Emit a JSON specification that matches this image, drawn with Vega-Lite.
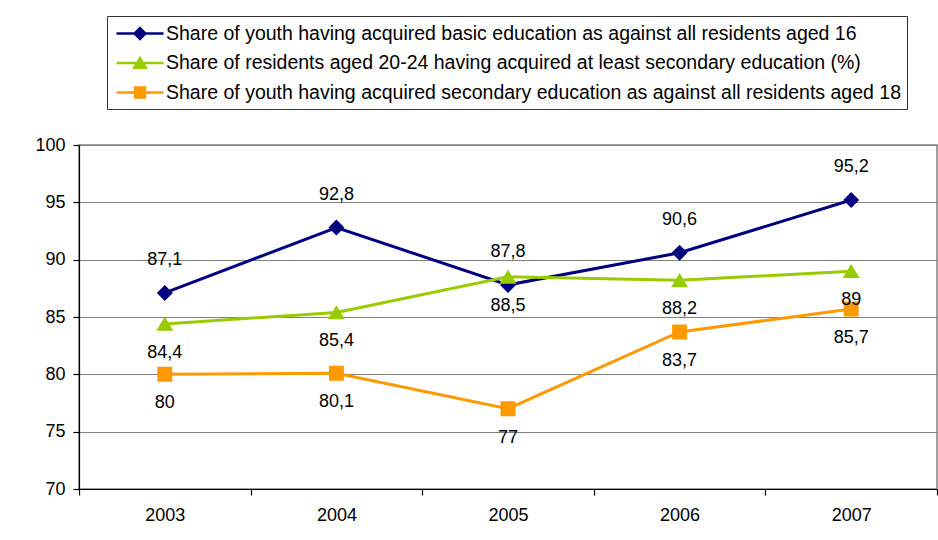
{
  "$schema": "https://vega.github.io/schema/vega-lite/v6.json",
  "autosize": "none",
  "width": 858,
  "height": 344,
  "padding": {"left": 79, "top": 145, "right": 1, "bottom": 51},
  "background": "white",
  "config": {
    "locale": {"number": {"decimal": ",", "thousands": " ", "grouping": [3], "currency": ["", ""]}},
    "font": "Liberation Sans",
    "view": {"stroke": "#808080", "strokeWidth": 1.5},
    "axis": {"domainColor": "#000", "tickColor": "#000", "labelColor": "#000", "labelFont": "Liberation Sans", "labelFontSize": 18, "title": null, "tickSize": 6, "domainWidth": 1.2, "tickWidth": 1.2}
  },
  "data": {
    "values": [
      {"year": "2003", "series": "Share of youth having acquired basic education as against all residents aged 16", "value": 87.1},
      {"year": "2004", "series": "Share of youth having acquired basic education as against all residents aged 16", "value": 92.8},
      {"year": "2005", "series": "Share of youth having acquired basic education as against all residents aged 16", "value": 87.8},
      {"year": "2006", "series": "Share of youth having acquired basic education as against all residents aged 16", "value": 90.6},
      {"year": "2007", "series": "Share of youth having acquired basic education as against all residents aged 16", "value": 95.2},
      {"year": "2003", "series": "Share of residents aged 20-24 having acquired at least secondary education (%)", "value": 84.4},
      {"year": "2004", "series": "Share of residents aged 20-24 having acquired at least secondary education (%)", "value": 85.4},
      {"year": "2005", "series": "Share of residents aged 20-24 having acquired at least secondary education (%)", "value": 88.5},
      {"year": "2006", "series": "Share of residents aged 20-24 having acquired at least secondary education (%)", "value": 88.2},
      {"year": "2007", "series": "Share of residents aged 20-24 having acquired at least secondary education (%)", "value": 89},
      {"year": "2003", "series": "Share of youth having acquired secondary education as against all residents aged 18", "value": 80},
      {"year": "2004", "series": "Share of youth having acquired secondary education as against all residents aged 18", "value": 80.1},
      {"year": "2005", "series": "Share of youth having acquired secondary education as against all residents aged 18", "value": 77},
      {"year": "2006", "series": "Share of youth having acquired secondary education as against all residents aged 18", "value": 83.7},
      {"year": "2007", "series": "Share of youth having acquired secondary education as against all residents aged 18", "value": 85.7}
    ]
  },
  "encoding": {
    "x": {"field": "year", "type": "ordinal", "scale": {"type": "band", "paddingInner": 0, "paddingOuter": 0},
      "axis": {"labelAngle": 0, "tickBand": "extent", "labelPadding": 11, "grid": false}},
    "y": {"field": "value", "type": "quantitative", "scale": {"domain": [70, 100], "nice": false, "zero": false},
      "axis": {"values": [70, 75, 80, 85, 90, 95, 100], "format": "d", "grid": true, "gridColor": "#808080", "gridWidth": 1.2, "labelPadding": 8}}
  },
  "layer": [
    {
      "mark": {"type": "line", "strokeWidth": 3},
      "encoding": {
        "color": {"field": "series", "type": "nominal", "sort": null,
          "scale": {"domain": [
            "Share of youth having acquired basic education as against all residents aged 16",
            "Share of residents aged 20-24 having acquired at least secondary education (%)",
            "Share of youth having acquired secondary education as against all residents aged 18"],
            "range": ["#000080", "#99CC00", "#FF9900"]}}
      }
    },
    {
      "mark": {"type": "point", "filled": true, "opacity": 1, "size": 876, "strokeWidth": 0},
      "encoding": {
        "color": {"field": "series", "type": "nominal", "sort": null,
          "legend": {
            "title": null, "orient": "none", "legendX": 28, "legendY": -129,
            "strokeColor": "#333", "fillColor": "white", "padding": 6,
            "labelFont": "Liberation Sans", "labelFontSize": 19.5, "labelColor": "#000", "labelLimit": 900,
            "labelOffset": 14.5, "symbolOffset": 15.5, "symbolSize": 400, "rowPadding": 7.5,
            "symbolOpacity": 1,
            "encode": {"symbols": {"update": {"stroke": {"scale": "color", "field": "value"}, "strokeWidth": {"value": 2.5}}}}
          }},
        "shape": {"field": "series", "type": "nominal", "sort": null,
          "scale": {"domain": [
            "Share of youth having acquired basic education as against all residents aged 16",
            "Share of residents aged 20-24 having acquired at least secondary education (%)",
            "Share of youth having acquired secondary education as against all residents aged 18"],
            "range": [
              "M-2.35,0H2.35M0,-0.54L0.54,0L0,0.54L-0.54,0Z",
              "M-2.35,0H2.35M0,-0.49L0.576,0.47L-0.576,0.47Z",
              "M-2.35,0H2.35M-0.505,-0.505H0.505V0.505H-0.505Z"]},
          "legend": {"title": null}}
      }
    },
    {
      "transform": [{"filter": "datum.series == 'Share of youth having acquired basic education as against all residents aged 16'"}],
      "mark": {"type": "text", "dy": -33, "baseline": "middle", "fontSize": 18, "font": "Liberation Sans", "color": "#000"},
      "encoding": {"text": {"field": "value", "type": "quantitative", "format": ".3~r"}}
    },
    {
      "transform": [{"filter": "datum.series != 'Share of youth having acquired basic education as against all residents aged 16'"}],
      "mark": {"type": "text", "dy": 29, "baseline": "middle", "fontSize": 18, "font": "Liberation Sans", "color": "#000"},
      "encoding": {"text": {"field": "value", "type": "quantitative", "format": ".3~r"}}
    }
  ]
}
